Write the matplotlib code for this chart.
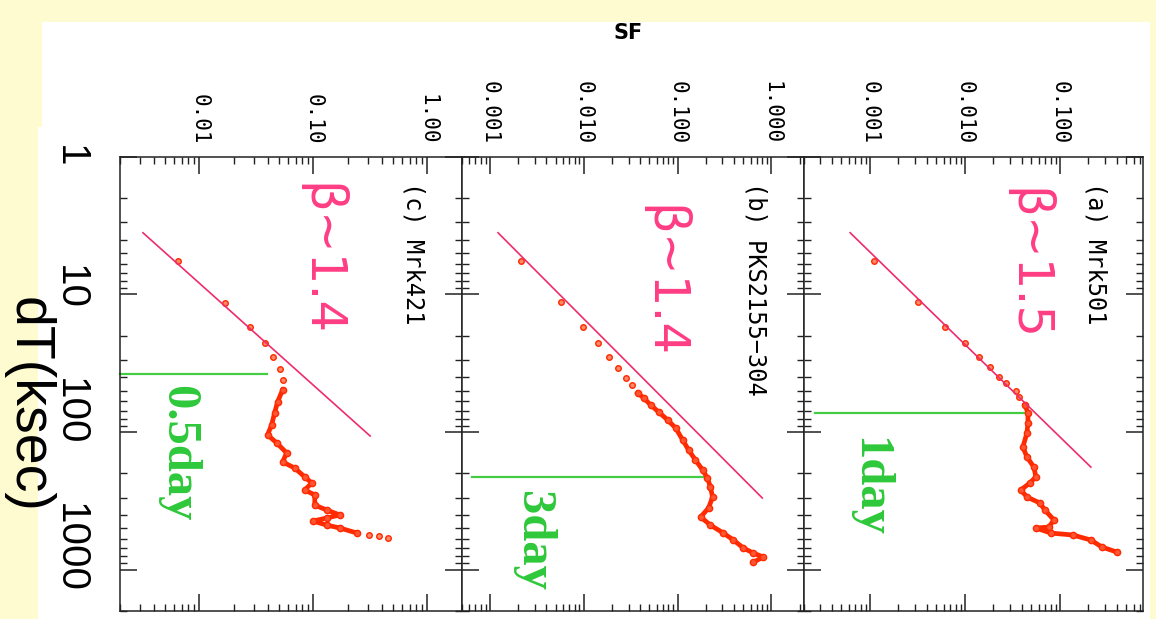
import matplotlib.pyplot as plt
from matplotlib.patches import Rectangle
from matplotlib.ticker import NullFormatter
from matplotlib.transforms import ScaledTranslation

W, H = 1156, 619

# shared time-lag axis
DT_TICKS = [1, 10, 100, 1000]
DT_LABELS = ["1", "10", "100", "1000"]
DT_LABEL_SHIFT = [0, 7, 20, 22]  # px, the slide labels sit a bit above the ticks

# (c) Mrk421
c_sf_ticks = [0.01, 0.1, 1.0]
c_sf_labels = ["0.01", "0.10", "1.00"]
c_dt = [5.71, 11.5, 17.2, 22.5, 28.5, 34.8, 41.9, 561, 571, 590]
c_sf = [6.53e-3, 0.0169, 0.0281, 0.0374, 0.0440, 0.0507, 0.0538, 0.308, 0.377, 0.453]
c_track_dt = [49.5, 60.5, 72.8, 88.9, 105, 120, 142, 165, 183, 212, 235, 264,
              287, 340, 369, 401, 422, 444, 475, 499, 543]
c_track_sf = [0.0538, 0.0486, 0.0458, 0.0431, 0.0397, 0.0477, 0.0584, 0.0538,
              0.0687, 0.0841, 0.0970, 0.0841, 0.103, 0.103, 0.131, 0.171, 0.131,
              0.0991, 0.131, 0.171, 0.242]
c_fit_dt = [3.57, 107]
c_fit_sf = [3.21e-3, 0.315]
c_day_dt = 37.9
c_day_sf = [0.002, 0.0389]

# (b) PKS2155-304
b_sf_ticks = [0.001, 0.01, 0.1, 1.0]
b_sf_labels = ["0.001", "0.010", "0.100", "1.000"]
b_dt = [5.71, 11.3, 17.2, 22.5, 28.5, 34.2, 40.5, 45.5]
b_sf = [2.14e-3, 5.69e-3, 9.75e-3, 0.0141, 0.0185, 0.0230, 0.0280, 0.0324]
b_track_dt = [52.0, 56.6, 63.6, 71.6, 81.8, 93.5, 114, 135, 160, 189, 216, 251,
              297, 357, 415, 475, 543, 610, 698, 759, 811, 882]
b_track_sf = [0.0375, 0.0435, 0.0516, 0.0628, 0.0783, 0.0953, 0.113, 0.131,
              0.155, 0.185, 0.208, 0.224, 0.236, 0.214, 0.176, 0.224, 0.308,
              0.394, 0.504, 0.644, 0.822, 0.644]
b_fit_dt = [3.57, 302]
b_fit_sf = [1.22e-3, 0.80]
b_day_dt = 212
b_day_sf = [6.4e-4, 0.208]

# (a) Mrk501
a_sf_ticks = [0.001, 0.01, 0.1]
a_sf_labels = ["0.001", "0.010", "0.100"]
a_dt = [5.71, 11.3, 17.2, 22.5, 28.5, 33.7, 39.8, 44.0, 50.3, 55.6]
a_sf = [1.10e-3, 3.20e-3, 6.15e-3, 0.0100, 0.0140, 0.0183, 0.0228, 0.0270,
        0.0344, 0.0370]
a_track_dt = [63.6, 72.8, 86.0, 101.7, 128.5, 152, 180, 212, 235, 264, 297, 328,
              369, 436, 491, 499, 543, 561, 610, 686, 746]
a_track_sf = [0.0429, 0.0461, 0.0461, 0.0450, 0.0408, 0.0450, 0.0532, 0.0559,
              0.0483, 0.0388, 0.0450, 0.0615, 0.0695, 0.0865, 0.0766, 0.0559,
              0.0804, 0.137, 0.212, 0.277, 0.398]
a_fit_dt = [3.57, 180]
a_fit_sf = [6.2e-4, 0.212]
a_day_dt = 72.8
a_day_sf = [2.64e-4, 0.0461]

panels = [
    dict(box=(119.5, 461.7), xlim=(0.002, 2.0), ticks=c_sf_ticks, labels=c_sf_labels,
         dt=c_dt, sf=c_sf, tdt=c_track_dt, tsf=c_track_sf, fdt=c_fit_dt, fsf=c_fit_sf,
         ddt=c_day_dt, dsf=c_day_sf, name="(c) Mrk421", beta="\u03b2\u223c1.4",
         beta_pos=(0.586, 0.942), day="0.5day", day_pos=(0.171, 0.348)),
    dict(box=(461.7, 803.5), xlim=(5e-4, 2.2), ticks=b_sf_ticks, labels=b_sf_labels,
         dt=b_dt, sf=b_sf, tdt=b_track_dt, tsf=b_track_sf, fdt=b_fit_dt, fsf=b_fit_sf,
         ddt=b_day_dt, dsf=b_day_sf, name="(b) PKS2155\u2212304", beta="\u03b2\u223c1.4",
         beta_pos=(0.589, 0.894), day="3day", day_pos=(0.209, 0.154)),
    dict(box=(803.5, 1143.0), xlim=(2e-4, 0.75), ticks=a_sf_ticks, labels=a_sf_labels,
         dt=a_dt, sf=a_sf, tdt=a_track_dt, tsf=a_track_sf, fdt=a_fit_dt, fsf=a_fit_sf,
         ddt=a_day_dt, dsf=a_day_sf, name="(a) Mrk501", beta="\u03b2\u223c1.5",
         beta_pos=(0.658, 0.931), day="1day", day_pos=(0.193, 0.273)),
]

RED = "#ff2a00"
PINK_LINE = "#ee2c6c"
PINK_TEXT = "#ff3d84"
GREEN_LINE = "#44cc44"
GREEN_TEXT = "#2ec83a"

fig = plt.figure(figsize=(W / 100, H / 100), dpi=100)
fig.patch.set_facecolor("#fffbd0")
fig.add_artist(Rectangle((42 / W, 0), (1150 - 42) / W, (H - 22) / H,
                         transform=fig.transFigure, fc="white", ec="none", zorder=0))
fig.add_artist(Rectangle((38 / W, 0), (1150 - 38) / W, (H - 127) / H,
                         transform=fig.transFigure, fc="white", ec="none", zorder=0))

top_px, bot_px = 156.7, 611.0
for i, p in enumerate(panels):
    x0, x1 = p["box"]
    ax = fig.add_axes([x0 / W, 1 - bot_px / H, (x1 - x0) / W, (bot_px - top_px) / H])
    ax.set_facecolor("white")
    ax.set_xscale("log")
    ax.set_yscale("log")
    ax.set_xlim(*p["xlim"])
    ax.set_ylim(2000, 1)
    ax.set_xticks(p["ticks"], p["labels"])
    ax.set_yticks(DT_TICKS, [""] * len(DT_TICKS))
    ax.xaxis.set_minor_formatter(NullFormatter())
    ax.yaxis.set_minor_formatter(NullFormatter())
    ax.tick_params(which="both", direction="in", top=True, bottom=True,
                   left=True, right=True, labeltop=True, labelbottom=False,
                   labelleft=False, color="#222222")
    ax.tick_params(which="major", length=12.5, width=1.1)
    ax.tick_params(which="minor", length=5, width=1.0)
    ax.tick_params(axis="x", labelrotation=270, labelsize=15, pad=9)
    for lab in ax.get_xticklabels():
        lab.set_fontfamily("DejaVu Sans Mono")
    for s in ax.spines.values():
        s.set_linewidth(1.1)
        s.set_color("#222222")

    if i == 0:
        # big slide-style dT labels left of the first panel
        for t, lab, sh in zip(DT_TICKS, DT_LABELS, DT_LABEL_SHIFT):
            tr = ax.get_yaxis_transform() + ScaledTranslation(0, sh / 100, fig.dpi_scale_trans)
            ax.text(-0.145, t, lab, transform=tr, rotation=270, ha="center",
                    va="center", fontsize=29, family="Liberation Sans", clip_on=False)

    ax.plot([p["dsf"][0], p["dsf"][1]], [p["ddt"], p["ddt"]], color=GREEN_LINE,
            lw=1.6, zorder=2, clip_on=False)
    ax.plot(p["tsf"], p["tdt"], "-o", color=RED, lw=3.4, ms=4.5, mfc="#ff5533",
            mec=RED, mew=1.0, zorder=3)
    ax.plot(p["sf"], p["dt"], "o", color=RED, ms=4, mfc="#ff8866", mec=RED,
            mew=1.0, zorder=3)
    ax.plot(p["fsf"], p["fdt"], color=PINK_LINE, lw=1.2, zorder=4)

    ax.text(0.86, 0.944, p["name"], transform=ax.transAxes, rotation=270,
            ha="center", va="top", fontsize=17, family="DejaVu Sans Mono")
    ax.text(p["beta_pos"][0], p["beta_pos"][1], p["beta"], transform=ax.transAxes,
            rotation=270, ha="center", va="top", fontsize=36, color=PINK_TEXT,
            family="DejaVu Sans")
    ax.text(p["day_pos"][0], p["day_pos"][1], p["day"], transform=ax.transAxes,
            rotation=270, ha="center", va="center", fontsize=35, color=GREEN_TEXT,
            family="Liberation Serif", fontweight="bold")

fig.text(628 / W, 1 - 33 / H, "SF", ha="center", va="center", fontsize=15,
         fontweight="bold", family="DejaVu Sans")
fig.text(28 / W, 1 - 405 / H, "dT(ksec)", rotation=270, ha="center", va="center",
         fontsize=40, family="Liberation Sans")

fig.savefig("out.png", dpi=100, facecolor=fig.get_facecolor())
